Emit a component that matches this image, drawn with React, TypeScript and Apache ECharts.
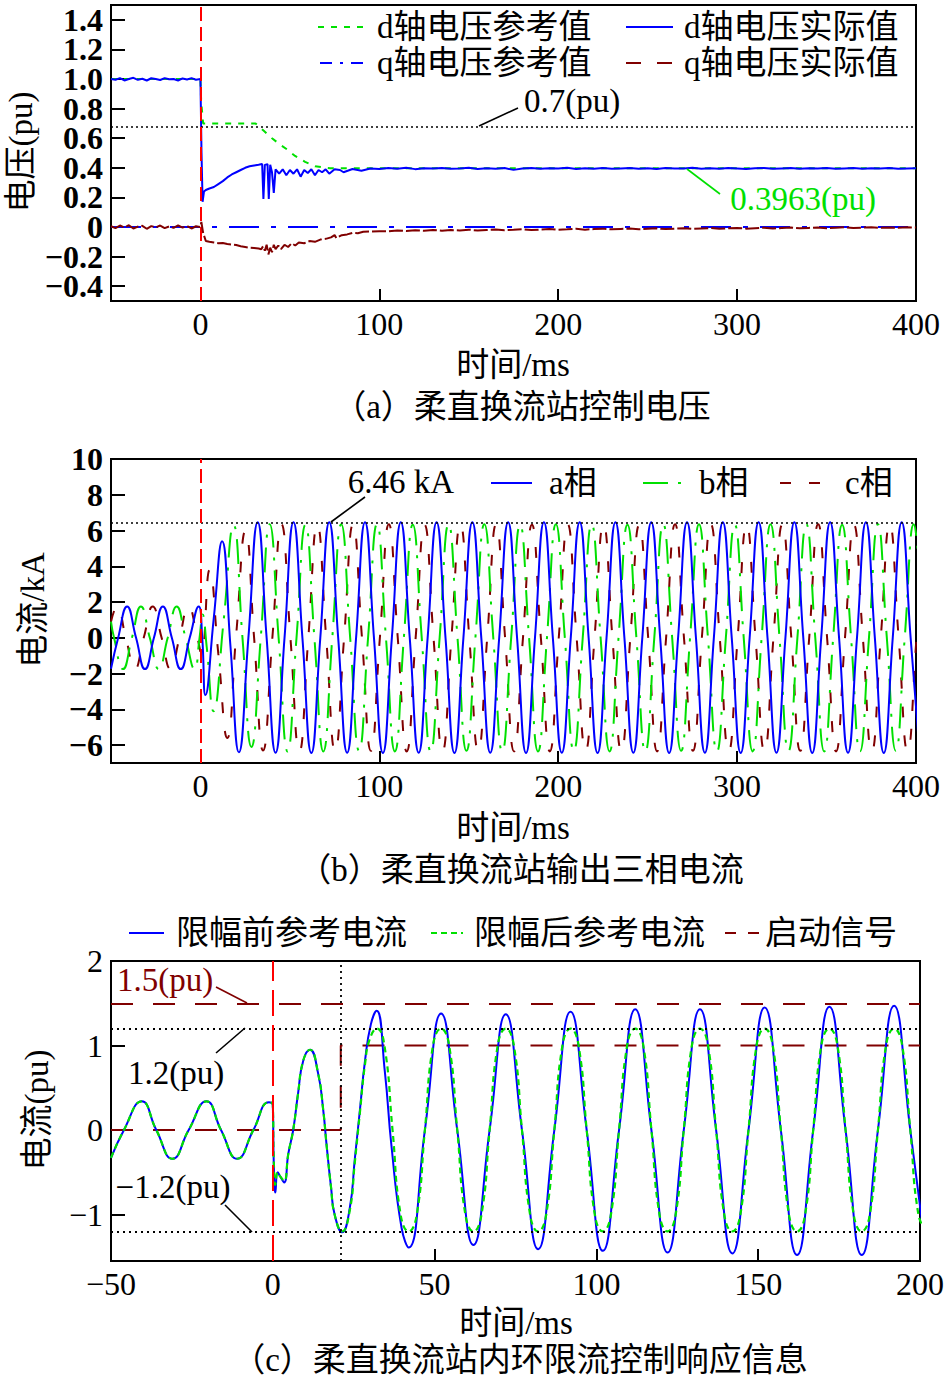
import React, { useEffect, useRef } from 'react';
import * as echarts from 'echarts';

// ---------------- Panel (a) data ----------------
const xTicksAB = [0, 100, 200, 300, 400];
// the two end values (-0.5, 1.5) are the axis bounds and carry no label
const yTicksA = [-0.5, -0.4, -0.2, 0, 0.2, 0.4, 0.6, 0.8, 1.0, 1.2, 1.4, 1.5];
const dRefData: [number, number][] = [
  [-50, 1.0], [0, 1.0], [0.4, 0.85], [1.5, 0.7], [30.8, 0.7], [35.4, 0.65], [40, 0.6], [44.5, 0.557],
  [48.3, 0.525], [52.9, 0.48], [58.5, 0.44], [64.1, 0.41], [72.5, 0.397], [400, 0.3963],
];
const dActualPre = [1.0, 0.995, 1.006, 0.99, 1.0, 1.008, 0.994, 1.002, 0.99, 1.005, 1.0, 0.993, 1.006, 0.998, 1.0, 0.99, 1.004, 0.997, 1.006, 0.995, 1.0];
const dActualTransient: [number, number][] = [
  [0.6, 0.5], [1.2, 0.17], [2, 0.24], [3, 0.25], [5, 0.26], [7.5, 0.27], [10, 0.29], [12.5, 0.31], [15, 0.335],
  [17.5, 0.355], [20, 0.37], [22.5, 0.385], [25, 0.4], [27.5, 0.41], [30, 0.415], [32.5, 0.42], [34.5, 0.425],
  [35.2, 0.19], [36, 0.42], [37.5, 0.425], [38.2, 0.19], [39, 0.42], [40, 0.37], [41, 0.23], [42, 0.39], [44, 0.36],
  [46, 0.39], [48, 0.35], [50, 0.385], [52, 0.36], [54, 0.39], [56, 0.34], [58, 0.385], [60, 0.365], [62, 0.39],
  [64, 0.35], [66, 0.385], [68, 0.37], [70, 0.39], [72, 0.36], [75, 0.39], [78, 0.385], [80, 0.37], [85, 0.392],
  [90, 0.38], [95, 0.395],
];
const dActualSteady = [
  0.392, 0.398, 0.394, 0.4, 0.391, 0.397, 0.395, 0.399, 0.393, 0.396,
  0.4, 0.392, 0.397, 0.394, 0.398, 0.386, 0.396, 0.399, 0.393, 0.397,
  0.395, 0.4, 0.392, 0.397, 0.394, 0.399, 0.393, 0.396, 0.398, 0.394,
  0.397, 0.392, 0.399, 0.395, 0.396, 0.4, 0.393, 0.397, 0.394, 0.398,
  0.395, 0.392, 0.397, 0.399, 0.394, 0.396, 0.398, 0.393, 0.397, 0.395,
  0.399, 0.394, 0.396, 0.398, 0.393, 0.397, 0.395, 0.399, 0.394, 0.396, 0.397,
];
const qRefData: [number, number][] = [[-50, 0], [400, 0]];
const qActualPre = [0.005, -0.008, 0.01, -0.004, 0.012, -0.01, 0.003, 0.008, -0.012, 0.006, -0.003, 0.01, -0.008, 0.004, -0.006, 0.011, -0.004, 0.007, -0.01, 0.005, 0.0];
const qActualTransient: [number, number][] = [
  [0.5, 0.035], [1.5, -0.04], [3, -0.095], [5, -0.1], [7.5, -0.105], [10, -0.11], [12.5, -0.108], [15, -0.115],
  [17.5, -0.118], [20, -0.122], [22.5, -0.13], [25, -0.135], [27.5, -0.14], [30, -0.142], [32.5, -0.145], [34, -0.15],
  [35, -0.13], [36, -0.16], [37, -0.12], [38, -0.185], [39, -0.14], [40, -0.17], [41, -0.12], [42, -0.15], [43.5, -0.125],
  [45, -0.15], [47, -0.12], [49, -0.135], [51, -0.11], [53, -0.125], [55, -0.105], [58, -0.11], [61, -0.095], [64, -0.1],
  [67, -0.085], [70, -0.08], [73, -0.07], [75, -0.055], [76, -0.075], [79, -0.055], [82, -0.05], [85, -0.04], [88, -0.042],
  [91, -0.032], [95, -0.03],
];
const qActualSteady = [
  -0.028, -0.03, -0.024, -0.027, -0.022, -0.026, -0.02, -0.025, -0.021, -0.023,
  -0.018, -0.024, -0.02, -0.017, -0.022, -0.019, -0.015, -0.021, -0.017, -0.014,
  -0.019, -0.016, -0.012, -0.018, -0.014, -0.011, -0.016, -0.013, -0.01, -0.015,
  -0.012, -0.009, -0.014, -0.011, -0.008, -0.013, -0.01, -0.007, -0.012, -0.009,
  -0.006, -0.011, -0.008, -0.005, -0.01, -0.007, -0.004, -0.009, -0.006, -0.003,
  -0.008, -0.005, -0.002, -0.007, -0.004, -0.001, -0.006, -0.003, -0.005, -0.002, -0.004,
];
const voltRefMark = 0.68;

// ---------------- Panel (b) data ----------------
const yTicksB = [-6, -4, -2, 0, 2, 4, 6, 8, 10];
const peakMarkB = 6.46;
const phaseA: [number, number][] = [
  [-50, -1.73], [-46, 0], [-41, 1.75], [-36, 0], [-31, -1.75], [-26, 0], [-21, 1.75], [-16, 0], [-11, -1.75], [-6, 0], [-1, 1.75],
  [1, 0], [2.8, -3.2], [7.45, 1.1], [12.1, 5.4], [16.8, -0.5], [21.5, -6.4], [26.8, 0],
  [32, 6.46], [37, 0], [42, -6.42], [47, 0], [52, 6.46], [57, 0], [62, -6.44], [67, 0], [72, 6.46], [77, 0], [82, -6.42], [87, 0],
  [92, 6.46], [97, 0], [102, -6.44], [107, 0], [112, 6.46], [117, 0], [122, -6.42], [127, 0], [132, 6.46], [137, 0],
  [142, -6.44], [147, 0], [152, 6.46], [157, 0], [162, -6.42], [167, 0], [172, 6.46], [177, 0], [182, -6.44], [187, 0],
  [192, 6.46], [197, 0], [202, -6.42], [207, 0], [212, 6.46], [217, 0], [222, -6.44], [227, 0], [232, 6.46], [237, 0],
  [242, -6.42], [247, 0], [252, 6.46], [257, 0], [262, -6.44], [267, 0], [272, 6.46], [277, 0], [282, -6.42], [287, 0],
  [292, 6.46], [297, 0], [302, -6.44], [307, 0], [312, 6.46], [317, 0], [322, -6.42], [327, 0], [332, 6.46], [337, 0],
  [342, -6.44], [347, 0], [352, 6.46], [357, 0], [362, -6.42], [367, 0], [372, 6.46], [377, 0], [382, -6.44], [387, 0],
  [392, 6.46], [397, 0], [402, -6.42],
];
const phaseB: [number, number][] = [
  [-50, 0.9], [-48.3, 0], [-43.3, -1.75], [-38.3, 0], [-33.3, 1.75], [-28.3, 0], [-23.3, -1.75], [-18.3, 0], [-13.3, 1.75], [-8.3, 0], [-3.3, -1.75],
  [-0.5, 0], [1.2, 1.3], [3.5, -0.5], [7.3, -4.1], [12.9, 0.9], [18.5, 6.3], [23.5, 0], [28.5, -6.1], [33.7, 0],
  [38.7, 6.35], [43.7, 0], [48.7, -6.35], [53.7, 0], [58.7, 6.32], [63.7, 0], [68.7, -6.35], [73.7, 0], [78.7, 6.35], [83.7, 0], [88.7, -6.32], [93.7, 0],
  [98.7, 6.35], [103.7, 0], [108.7, -6.35], [113.7, 0], [118.7, 6.32], [123.7, 0], [128.7, -6.35], [133.7, 0], [138.7, 6.35], [143.7, 0], [148.7, -6.32], [153.7, 0],
  [158.7, 6.35], [163.7, 0], [168.7, -6.35], [173.7, 0], [178.7, 6.32], [183.7, 0], [188.7, -6.35], [193.7, 0], [198.7, 6.35], [203.7, 0], [208.7, -6.32], [213.7, 0],
  [218.7, 6.35], [223.7, 0], [228.7, -6.35], [233.7, 0], [238.7, 6.32], [243.7, 0], [248.7, -6.35], [253.7, 0], [258.7, 6.35], [263.7, 0], [268.7, -6.32], [273.7, 0],
  [278.7, 6.35], [283.7, 0], [288.7, -6.35], [293.7, 0], [298.7, 6.32], [303.7, 0], [308.7, -6.35], [313.7, 0], [318.7, 6.35], [323.7, 0], [328.7, -6.32], [333.7, 0],
  [338.7, 6.35], [343.7, 0], [348.7, -6.35], [353.7, 0], [358.7, 6.32], [363.7, 0], [368.7, -6.35], [373.7, 0], [378.7, 6.35], [383.7, 0], [388.7, -6.32], [393.7, 0],
  [398.7, 6.35], [403.7, 0],
];
const phaseC: [number, number][] = [
  [-50, 0.9], [-46.7, 1.75], [-41.7, 0], [-36.7, -1.75], [-31.7, 0], [-26.7, 1.75], [-21.7, 0], [-16.7, -1.75], [-11.7, 0], [-6.7, 1.75], [-1.7, 0],
  [0.5, -0.9], [5.1, 3.8], [10, -0.9], [15, -5.6], [20, 0.2], [25.2, 6.0], [30, 0], [35, -6.3], [40.2, 0],
  [45.3, 6.35], [50.3, 0], [55.3, -6.35], [60.3, 0], [65.3, 6.32], [70.3, 0], [75.3, -6.35], [80.3, 0], [85.3, 6.35], [90.3, 0], [95.3, -6.32], [100.3, 0],
  [105.3, 6.35], [110.3, 0], [115.3, -6.35], [120.3, 0], [125.3, 6.32], [130.3, 0], [135.3, -6.35], [140.3, 0], [145.3, 6.35], [150.3, 0], [155.3, -6.32], [160.3, 0],
  [165.3, 6.35], [170.3, 0], [175.3, -6.35], [180.3, 0], [185.3, 6.32], [190.3, 0], [195.3, -6.35], [200.3, 0], [205.3, 6.35], [210.3, 0], [215.3, -6.32], [220.3, 0],
  [225.3, 6.35], [230.3, 0], [235.3, -6.35], [240.3, 0], [245.3, 6.32], [250.3, 0], [255.3, -6.35], [260.3, 0], [265.3, 6.35], [270.3, 0], [275.3, -6.32], [280.3, 0],
  [285.3, 6.35], [290.3, 0], [295.3, -6.35], [300.3, 0], [305.3, 6.32], [310.3, 0], [315.3, -6.35], [320.3, 0], [325.3, 6.35], [330.3, 0], [335.3, -6.32], [340.3, 0],
  [345.3, 6.35], [350.3, 0], [355.3, -6.35], [360.3, 0], [365.3, 6.32], [370.3, 0], [375.3, -6.35], [380.3, 0], [385.3, 6.35], [390.3, 0], [395.3, -6.35], [400.3, 0],
  [405.3, 6.35],
];

// ---------------- Panel (c) data ----------------
const yTicksC = [-1, 0, 1, 2];
const limitHigh = 1.2;
const limitLow = -1.2;
const startThreshold = 1.5;
const startTime = 21;
const blueC: [number, number][] = [
  [-50, -0.33], [-46, 0], [-40.5, 0.34], [-36, 0], [-31, -0.34], [-26, 0], [-20.5, 0.34], [-16, 0], [-11, -0.34], [-6, 0], [-1.2, 0.33],
  [0, 0.3], [0.3, -0.4], [0.8, -0.74], [1.5, -0.5], [2.3, -0.55], [3.5, -0.62], [4.8, -0.28], [6.3, 0], [7.8, 0.43], [9.4, 0.82],
  [11.5, 0.95], [14, 0.67], [15.6, 0.23], [16.6, -0.17], [18, -0.68], [19.1, -1.0], [21.4, -1.21], [23.8, -0.92], [25.3, -0.36],
  [26.9, 0.23], [28.5, 0.82], [30.3, 1.25], [32.1, 1.41], [34.6, 0.7], [36.7, -0.2], [39.8, -1.16], [42, -1.39], [47, 0],
  [52, 1.38], [57, 0], [62, -1.36], [67, 0], [72, 1.37], [77, 0], [82, -1.41], [87, 0], [92, 1.4], [97, 0], [102, -1.43], [107, 0],
  [112, 1.43], [117, 0], [122, -1.45], [127, 0], [132, 1.43], [137, 0], [142, -1.46], [147, 0], [152, 1.45], [157, 0], [162, -1.48],
  [167, 0], [172, 1.46], [177, 0], [182, -1.48], [187, 0], [192, 1.47], [197, 0], [202, -1.5],
];
const greenC: [number, number][] = [
  [-50, -0.33], [-46, 0], [-40.5, 0.34], [-36, 0], [-31, -0.34], [-26, 0], [-20.5, 0.34], [-16, 0], [-11, -0.34], [-6, 0], [-1.2, 0.33],
  [0, 0.3], [0.3, -0.35], [0.8, -0.65], [1.5, -0.5], [2.3, -0.55], [3.5, -0.6], [4.8, -0.28], [6.3, 0], [7.8, 0.43], [9.4, 0.82],
  [11.5, 0.95], [14, 0.67], [15.6, 0.23], [16.6, -0.17], [18, -0.68], [19.1, -1.0], [21.4, -1.2], [23.8, -0.95], [25.3, -0.4],
  [26.9, 0.2], [28.5, 0.78], [30, 1.08], [32.2, 1.2], [34.5, 1.0], [37, 0], [39.5, -1.0], [42, -1.2], [44.5, -1.0], [47, 0],
  [49.5, 1.0], [52, 1.2], [54.5, 1.0], [57, 0], [59.5, -1.0], [62, -1.2], [64.5, -1.0], [67, 0],
  [69.5, 1.0], [72, 1.2], [74.5, 1.0], [77, 0], [79.5, -1.0], [82, -1.2], [84.5, -1.0], [87, 0],
  [89.5, 1.0], [92, 1.2], [94.5, 1.0], [97, 0], [99.5, -1.0], [102, -1.2], [104.5, -1.0], [107, 0],
  [109.5, 1.0], [112, 1.2], [114.5, 1.0], [117, 0], [119.5, -1.0], [122, -1.2], [124.5, -1.0], [127, 0],
  [129.5, 1.0], [132, 1.2], [134.5, 1.0], [137, 0], [139.5, -1.0], [142, -1.2], [144.5, -1.0], [147, 0],
  [149.5, 1.0], [152, 1.2], [154.5, 1.0], [157, 0], [159.5, -1.0], [162, -1.2], [164.5, -1.0], [167, 0],
  [169.5, 1.0], [172, 1.2], [174.5, 1.0], [177, 0], [179.5, -1.0], [182, -1.2], [184.5, -1.0], [187, 0],
  [189.5, 1.0], [192, 1.2], [194.5, 1.0], [197, 0], [199.5, -1.0], [202, -1.2],
];
const startSignal: [number, number][] = [[-50, 0], [21, 0], [21, 1], [200, 1]];

// ---------------- styling ----------------
const SERIF = "'Liberation Serif', 'Times New Roman', 'Noto Sans CJK SC', serif";
const BLUE = '#0000ff';
const GREEN = '#00e000';
const MAROON = '#800000';
const RED = '#ff0000';

const toPairs = (vals: number[], start: number, step: number): [number, number][] =>
  vals.map((v, i) => [start + step * i, v]);

const dActualData = [...toPairs(dActualPre, -50, 2.5), ...dActualTransient, ...toPairs(dActualSteady, 100, 5)];
const qActualData = [...toPairs(qActualPre, -50, 2.5), ...qActualTransient, ...toPairs(qActualSteady, 100, 5)];

const minus = (s: string) => s.replace('-', '−');
const fmtInt = (v: number) => minus(String(Math.round(v)));
const fmtA = (v: number) =>
  Math.abs(Math.abs(v) - 0.5) < 1e-9 || Math.abs(v - 1.5) < 1e-9 ? '' : Math.abs(v) < 1e-9 ? '0' : minus(v.toFixed(1));

function xAxisCfg(grid: number, min: number, max: number, ticks?: number[], interval?: number) {
  return {
    type: 'value', gridIndex: grid, min, max, interval,
    splitLine: { show: false },
    axisLine: { show: true, onZero: false, lineStyle: { color: '#000', width: 2 } },
    axisTick: { show: true, inside: true, length: 12, lineStyle: { color: '#000', width: 2 }, ...(ticks ? { customValues: ticks } : {}) },
    axisLabel: {
      color: '#000', fontSize: 32, fontFamily: SERIF, margin: 7, formatter: fmtInt,
      showMinLabel: true, showMaxLabel: true, hideOverlap: false,
      ...(ticks ? { customValues: ticks } : {}),
    },
  };
}
function yAxisCfg(grid: number, min: number, max: number, ticks: number[], fmt: (v: number) => string, bold: boolean, showEnds: boolean) {
  return {
    type: 'value', gridIndex: grid, min, max,
    splitLine: { show: false },
    axisLine: { show: true, onZero: false, lineStyle: { color: '#000', width: 2 } },
    axisTick: { show: true, inside: true, length: 14, lineStyle: { color: '#000', width: 2 }, customValues: ticks },
    axisLabel: {
      color: '#000', margin: 8, customValues: ticks, showMinLabel: showEnds, showMaxLabel: showEnds, hideOverlap: false,
      fontSize: 32, fontFamily: SERIF, fontWeight: bold ? 'bold' : 'normal',
      formatter: fmt,
    },
  };
}
function leg(name: string, left: number, top: number, itemWidth: number, pad: number, lineStyle?: any) {
  return {
    data: [name], left, top, itemWidth, itemHeight: 14, padding: 0, selectedMode: false,
    itemStyle: { opacity: 0, borderWidth: 0 },
    textStyle: { fontSize: 33, fontFamily: SERIF, color: '#000', padding: [0, 0, 0, pad], lineHeight: 36 },
    ...(lineStyle ? { lineStyle } : {}),
  };
}
function line(name: string, axis: number, data: any, color: string, type: any, width: number, smooth: any, markLine?: any, z = 2) {
  return {
    name, type: 'line', xAxisIndex: axis, yAxisIndex: axis, data, symbol: 'none', showSymbol: false,
    smooth, z, lineStyle: { color, type, width }, itemStyle: { color }, emphasis: { disabled: true },
    ...(markLine ? { markLine } : {}),
  };
}
function mk(items: any[]) {
  return { silent: true, symbol: ['none', 'none'], label: { show: false }, animation: false, data: items };
}
function txt(text: string, x: number, y: number, fill = '#000', rot = 0, fontSize = 33) {
  return {
    type: 'text', x, y, rotation: rot, z: 100,
    style: { text, fill, fontSize, fontFamily: SERIF, align: 'center', verticalAlign: 'middle', textAlign: 'center', textVerticalAlign: 'middle' },
  };
}
function seg(x1: number, y1: number, x2: number, y2: number, stroke = '#000') {
  return { type: 'line', z: 100, shape: { x1, y1, x2, y2 }, style: { stroke, lineWidth: 1.6 } };
}

const option: any = {
  animation: false,
  backgroundColor: '#ffffff',
  grid: [
    { left: 111, top: 5, width: 805, height: 296, show: true, borderColor: '#000', borderWidth: 2 },
    { left: 111, top: 459, width: 805, height: 304, show: true, borderColor: '#000', borderWidth: 2 },
    { left: 111, top: 961, width: 809, height: 300, show: true, borderColor: '#000', borderWidth: 2 },
  ],
  xAxis: [
    xAxisCfg(0, -50, 400, xTicksAB),
    xAxisCfg(1, -50, 400, xTicksAB),
    xAxisCfg(2, -50, 200, undefined, 50),
  ],
  yAxis: [
    yAxisCfg(0, -0.5, 1.5, yTicksA, fmtA, true, false),
    yAxisCfg(1, -7, 10, yTicksB, fmtInt, true, true),
    yAxisCfg(2, -1.55, 2, yTicksC, fmtInt, false, true),
  ],
  legend: [
    leg('d轴电压参考值', 317, 9, 50, 4),
    leg('d轴电压实际值', 625, 9, 47, 6),
    leg('q轴电压参考值', 319, 45, 48, 4, { type: [12, 8, 3, 8] }),
    leg('q轴电压实际值', 625, 45, 46, 7, { type: [15, 16] }),
    leg('a相', 490, 465, 41, 12),
    leg('b相', 642, 465, 45, 6),
    leg('c相', 779, 465, 44, 16),
    leg('限幅前参考电流', 128, 915, 35, 7),
    leg('限幅后参考电流', 430, 915, 32, 6),
    leg('启动信号', 724, 915, 35, 0, { type: [11, 12] }),
  ],
  series: [
    // panel (a)
    line('d轴电压参考值', 0, dRefData, GREEN, [6, 7], 2, false,
      mk([{ yAxis: voltRefMark, lineStyle: { color: '#000', type: [2, 3], width: 1.6 } }]), 2),
    line('d轴电压实际值', 0, dActualData, BLUE, 'solid', 2, false, undefined, 3),
    line('q轴电压参考值', 0, qRefData, BLUE, [30, 12, 5, 12], 2, false, undefined, 4),
    line('q轴电压实际值', 0, qActualData, MAROON, [14, 3], 2, false,
      mk([{ xAxis: 0, lineStyle: { color: RED, type: [14, 6], width: 2 } }]), 5),
    // panel (b)
    line('c相', 1, phaseC, MAROON, [11, 18], 2, 0.5,
      mk([{ yAxis: peakMarkB, lineStyle: { color: '#000', type: [2, 3], width: 1.6 } }]), 2),
    line('b相', 1, phaseB, GREEN, [25, 10, 3, 10], 2, 0.5, undefined, 3),
    line('a相', 1, phaseA, BLUE, 'solid', 2, 0.5,
      mk([{ xAxis: 0, lineStyle: { color: RED, type: [14, 6], width: 2 } }]), 4),
    // panel (c)
    line('启动信号', 2, startSignal, MAROON, [22, 20], 2, false,
      mk([
        { yAxis: startThreshold, lineStyle: { color: MAROON, type: [22, 20], width: 2 } },
        { yAxis: limitHigh, lineStyle: { color: '#000', type: [2, 4], width: 1.8 } },
        { yAxis: limitLow, lineStyle: { color: '#000', type: [2, 4], width: 1.8 } },
        { xAxis: startTime, lineStyle: { color: '#000', type: [2, 4], width: 1.8 } },
      ]), 2),
    line('限幅前参考电流', 2, blueC, BLUE, 'solid', 2, 0.5, undefined, 3),
    line('限幅后参考电流', 2, greenC, GREEN, [6, 4], 2.2, 0.5,
      mk([{ xAxis: 0, lineStyle: { color: RED, type: [26, 9], width: 2 } }]), 4),
  ],
  graphic: [
    txt('电压(pu)', 21, 152, '#000', Math.PI / 2),
    txt('时间/ms', 513, 365),
    txt('（a）柔直换流站控制电压', 522, 407),
    txt('0.7(pu)', 572, 101),
    txt('0.3963(pu)', 803, 199, GREEN),
    seg(479, 126, 518, 108),
    seg(687, 169, 720, 194, GREEN),
    txt('电流/kA', 33, 610, '#000', Math.PI / 2),
    txt('时间/ms', 513, 828),
    txt('（b）柔直换流站输出三相电流', 521, 870),
    txt('6.46 kA', 401, 482),
    seg(331, 522, 365, 497),
    txt('电流(pu)', 37, 1110, '#000', Math.PI / 2),
    txt('时间/ms', 516, 1323),
    txt('（c）柔直换流站内环限流控制响应信息', 520, 1360),
    txt('1.5(pu)', 165, 980, MAROON),
    seg(216, 987, 247, 1003, MAROON),
    txt('1.2(pu)', 176, 1073),
    seg(216, 1053, 245, 1028),
    txt('−1.2(pu)', 173, 1187),
    seg(225, 1205, 252, 1232),
  ],
};

export default function App() {
  const ref = useRef<HTMLDivElement>(null);
  useEffect(() => {
    if (!ref.current) return;
    const chart = echarts.init(ref.current, null, { renderer: 'svg' });
    chart.setOption(option);
    return () => chart.dispose();
  }, []);
  return (
    <div
      ref={ref}
      style={{ position: 'absolute', left: 0, top: 0, width: 947, height: 1378, background: '#fff' }}
    />
  );
}
